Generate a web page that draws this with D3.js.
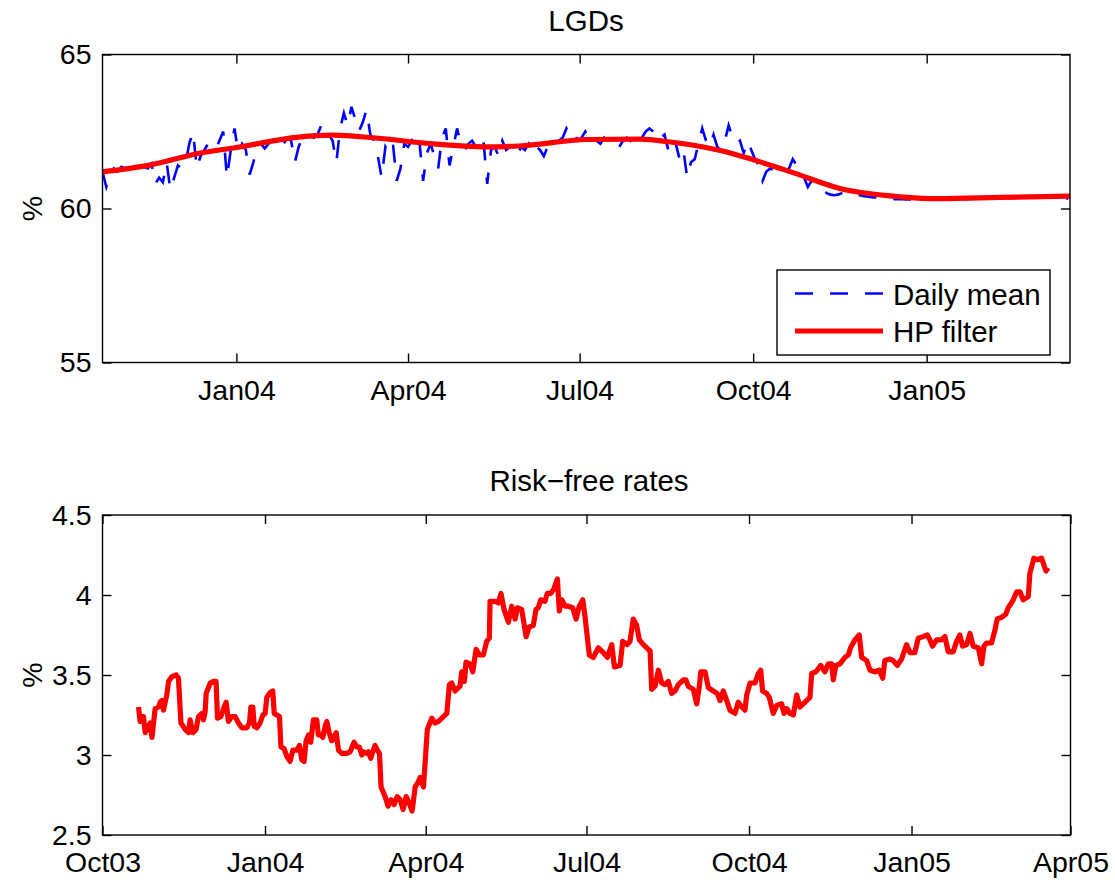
<!DOCTYPE html>
<html>
<head>
<meta charset="utf-8">
<script src="https://cdn.jsdelivr.net/npm/d3@7"></script>
<style>
  html, body { margin: 0; padding: 0; background: #fff; }
  svg { display: block; font-family: "Liberation Sans", Arial, Helvetica, sans-serif; }
</style>
</head>
<body>
<svg id="chart" width="1115" height="880"></svg>
<script>
const lgdStart = "2003-10-22";
const lgdStepDays = 2;
const lgdDaily = [
  61.2, 60.7, 61.1, 61.3, 61.2, 61.35, 61.3, 61.25, 61.35, 61.3,
  61.4, 61.35, 61.3, 61.45, 60.8, 61.0, 60.85, 61.5, 60.6, 61.0,
  61.4, 61.3, 61.45, 62.1, 62.5, 61.3, 61.7, 61.9, 62.1, 62.0,
  61.9, 62.2, 62.5, 61.0, 61.9, 62.6, 61.8, 62.1, 61.9, 61.1,
  61.5, 62.0, 62.1, 61.95, 62.1, 62.2, 62.05, 62.2, 62.1, 62.3,
  62.2, 61.5, 62.0, 62.3, 62.2, 62.35, 62.3, 62.4, 62.7, 62.3,
  62.4, 62.2, 61.5, 62.6, 63.1, 62.7, 63.3, 62.9, 62.5, 62.8,
  63.2, 62.4, 62.2, 61.7, 61.0, 62.0, 61.8, 62.1, 60.9, 61.3,
  62.1, 62.0, 62.2, 61.9, 62.2, 60.9, 61.8, 62.1, 61.7, 61.3,
  62.3, 62.6, 61.4, 62.0, 62.6, 62.1, 61.9, 62.1, 62.2, 62.0,
  61.9, 62.2, 60.8, 61.9, 62.0, 61.7, 62.2, 61.9, 62.0, 61.7,
  61.75, 62.0, 61.9, 62.1, 61.8, 62.0, 61.9, 61.7, 62.0, 62.1,
  62.0, 62.2, 62.3, 62.6, 62.4, 62.5, 62.2, 62.3, 62.5, 62.2,
  62.3, 62.2, 62.1, 62.3, 62.2, 62.0, 62.1, 62.0, 62.2, 62.3,
  62.2, 62.4, 62.2, 62.3, 62.5, 62.6, 62.5, 62.6, 62.3, 62.4,
  61.9, 62.3, 62.1, 61.6, 61.9, 61.0, 61.5, 61.6, 62.1, 62.6,
  62.2, 62.0, 62.4, 62.0, 61.9, 62.2, 62.7, 62.3, 62.1, 62.2,
  61.8, 62.2, 61.9, 61.6, 61.4, 60.9, 61.2, 61.3, 61.25, 61.2,
  61.1, 61.2, 61.3, 61.6, 61.4, 61.2, 61.0, 60.7, 60.9, 60.8,
  60.75, 60.6, 60.5, 60.45, 60.43, 60.45, 60.5, 60.55, 60.5, 60.48,
  60.45, 60.42, 60.4, 60.38, 60.37, 60.36, 60.34, 60.35, 60.33, 60.32,
  60.3, 60.31, 60.3, 60.29, 60.3, 60.28, 60.29, 60.3, 60.31, 60.3,
  60.3, 60.29, 60.3, 60.31, 60.3, 60.3, 60.32, 60.31, 60.3, 60.31,
  60.32, 60.31, 60.33, 60.32, 60.33, 60.34, 60.33, 60.35, 60.35, 60.36,
  60.35, 60.37, 60.36, 60.38, 60.37, 60.39, 60.38, 60.39, 60.4, 60.39,
  60.41, 60.4, 60.41, 60.4, 60.42, 60.38, 60.3
];

// LGDs: HP filter trend
const hpDates = [
  "2003-10-22", "2003-11-16", "2003-12-13", "2004-01-01", "2004-02-03", "2004-02-21",
  "2004-03-15", "2004-04-12", "2004-05-13", "2004-05-30", "2004-07-05", "2004-08-02",
  "2004-08-18", "2004-09-13", "2004-09-29", "2004-10-21", "2004-11-16", "2004-12-18",
  "2005-01-08", "2005-02-09", "2005-03-18"
];
const hpValues = [
  61.19, 61.41, 61.80, 61.98, 62.32, 62.38, 62.29, 62.11, 62.00, 62.03, 62.24,
  62.25, 62.16, 61.89, 61.62, 61.19, 60.65, 60.38, 60.32, 60.36, 60.40
];

// risk-free rates, day offsets counted from 1 Oct 2003
const rateStart = "2003-10-01";
const rateDays = [
  20.4, 21.3, 23.2, 24.2, 25.5, 27.0, 28.0, 29.3, 29.8, 31.7,
  32.7, 33.6, 34.5, 36.4, 37.4, 39.3, 41.7, 43.0, 44.4, 46.8,
  48.7, 49.6, 51.2, 53.0, 54.3, 56.3, 57.2, 58.1, 58.7, 61.0,
  62.8, 64.3, 65.1, 67.0, 68.9, 70.0, 71.3, 73.2, 75.1, 77.0,
  78.9, 81.7, 83.2, 84.0, 85.1, 85.9, 87.4, 89.2, 90.8, 92.1,
  93.0, 94.9, 96.4, 97.2, 98.7, 100.2, 101.0, 102.8, 104.4, 106.2,
  107.8, 110.0, 111.5, 112.8, 114.1, 115.3, 116.6, 117.9, 119.4, 121.3,
  122.2, 123.6, 124.7, 126.0, 127.0, 128.3, 129.8, 130.7, 132.3, 133.6,
  135.5, 138.3, 140.2, 142.4, 144.0, 145.4, 146.8, 147.7, 149.6, 150.5,
  151.9, 153.0, 154.3, 155.6, 156.8, 157.7, 160.0, 161.7, 163.4, 165.1,
  166.8, 168.5, 170.2, 171.9, 173.6, 175.3, 177.0, 178.7, 179.8, 181.7,
  183.9, 186.4, 188.3, 190.2, 193.0, 194.9, 196.4, 197.7, 199.6, 202.4,
  203.4, 204.9, 205.8, 208.1, 209.6, 211.5, 213.4, 215.6, 217.5, 219.0,
  219.4, 222.2, 224.1, 225.6, 227.3, 229.8, 231.7, 233.6, 234.9, 237.3,
  239.8, 241.6, 243.9, 245.4, 246.7, 248.1, 250.5, 251.8, 253.8, 255.6,
  257.5, 258.6, 260.0, 261.9, 263.7, 266.2, 268.1, 269.9, 271.9, 273.2,
  275.6, 277.9, 280.7, 283.5, 285.8, 288.3, 289.8, 293.0, 294.5, 297.1,
  298.6, 300.5, 302.4, 303.9, 306.2, 310.0, 310.9, 312.8, 314.7, 316.6,
  318.4, 320.3, 322.2, 324.1, 326.0, 328.8, 330.3, 331.6, 334.5, 336.4,
  337.9, 338.7, 341.1, 343.0, 345.8, 348.0, 349.6, 351.4, 353.4, 355.2,
  358.1, 359.9, 361.9, 363.7, 364.7, 366.6, 369.4, 371.3, 372.6, 373.7,
  376.0, 377.5, 379.7, 381.7, 384.5, 385.8, 387.3, 389.2, 391.1, 393.0,
  394.8, 396.7, 398.6, 400.5, 401.5, 403.9, 406.6, 409.0, 410.9, 412.8,
  413.7, 415.2, 417.5, 420.3, 422.2, 423.5, 426.0, 428.4, 429.8, 432.6,
  434.5, 437.3, 439.7, 441.7, 442.9, 445.8, 447.6, 449.9, 452.4, 455.2,
  457.1, 459.9, 461.8, 464.6, 466.9, 468.4, 469.9, 472.2, 475.0, 476.9,
  478.8, 481.6, 483.5, 485.4, 486.9, 489.2, 491.1, 492.9, 495.8, 497.7,
  499.0, 500.5, 503.3, 505.2, 506.5, 509.0, 511.4, 512.7, 515.6, 517.5,
  519.4, 521.2, 524.1, 525.0, 527.3, 529.1, 531.6, 534.1, 535.4
];
const rateValues = [
  3.30, 3.21, 3.24, 3.14, 3.17, 3.20, 3.11, 3.24, 3.29, 3.30,
  3.33, 3.34, 3.28, 3.375, 3.46, 3.49, 3.50, 3.48, 3.20, 3.16,
  3.14, 3.22, 3.14, 3.16, 3.24, 3.26, 3.22, 3.27, 3.385, 3.45,
  3.46, 3.46, 3.23, 3.24, 3.30, 3.33, 3.21, 3.24, 3.24, 3.20,
  3.17, 3.17, 3.20, 3.30, 3.30, 3.18, 3.17, 3.20, 3.25, 3.26,
  3.36, 3.39, 3.40, 3.26, 3.25, 3.24, 3.05, 3.04, 2.99, 2.96,
  3.03, 3.03, 3.06, 2.97, 2.96, 3.09, 3.125, 3.08, 3.22, 3.22,
  3.125, 3.125, 3.11, 3.18, 3.21, 3.14, 3.09, 3.10, 3.14, 3.03,
  3.01, 3.01, 3.02, 3.08, 3.05, 3.05, 3.00, 3.02, 3.01, 3.02,
  2.98, 3.02, 3.06, 3.03, 3.01, 2.80, 2.74, 2.68, 2.72, 2.69,
  2.74, 2.72, 2.66, 2.74, 2.70, 2.65, 2.80, 2.83, 2.86, 2.80,
  3.16, 3.23, 3.20, 3.21, 3.24, 3.26, 3.44, 3.45, 3.40, 3.43,
  3.52, 3.46, 3.58, 3.57, 3.52, 3.66, 3.625, 3.625, 3.71, 3.73,
  3.96, 3.96, 3.95, 4.01, 3.91, 3.83, 3.93, 3.85, 3.92, 3.91,
  3.74, 3.80, 3.81, 3.91, 3.92, 3.97, 3.96, 4.01, 4.01, 4.04,
  4.10, 3.90, 3.97, 3.93, 3.93, 3.92, 3.85, 3.93, 3.97, 3.86,
  3.625, 3.61, 3.67, 3.64, 3.61, 3.69, 3.55, 3.56, 3.71, 3.69,
  3.71, 3.85, 3.81, 3.72, 3.69, 3.65, 3.41, 3.43, 3.53, 3.45,
  3.44, 3.46, 3.385, 3.40, 3.44, 3.47, 3.47, 3.43, 3.41, 3.32,
  3.43, 3.52, 3.52, 3.42, 3.40, 3.385, 3.34, 3.40, 3.34, 3.28,
  3.26, 3.33, 3.30, 3.28, 3.375, 3.45, 3.45, 3.51, 3.53, 3.40,
  3.385, 3.36, 3.26, 3.31, 3.32, 3.26, 3.29, 3.26, 3.25, 3.375,
  3.30, 3.32, 3.34, 3.36, 3.51, 3.52, 3.56, 3.52, 3.57, 3.57,
  3.47, 3.56, 3.57, 3.61, 3.625, 3.67, 3.72, 3.75, 3.61, 3.59,
  3.53, 3.52, 3.53, 3.48, 3.59, 3.60, 3.59, 3.56, 3.60, 3.69,
  3.64, 3.64, 3.73, 3.74, 3.75, 3.72, 3.68, 3.72, 3.72, 3.74,
  3.645, 3.645, 3.71, 3.75, 3.68, 3.69, 3.76, 3.68, 3.67, 3.57,
  3.68, 3.70, 3.70, 3.78, 3.85, 3.86, 3.88, 3.92, 3.97, 4.02,
  4.02, 3.97, 3.99, 4.135, 4.23, 4.22, 4.23, 4.15, 4.17
];

// axes
const lgdDomain = ["2003-10-22", "2005-03-18"];
const lgdXTicks = ["2004-01-01", "2004-04-01", "2004-07-01", "2004-10-01", "2005-01-01"];
const lgdYTicks = [55, 60, 65];
const rateDomain = ["2003-10-01", "2005-04-01"];
const rateXTicks = ["2003-10-01", "2004-01-01", "2004-04-01", "2004-07-01", "2004-10-01", "2005-01-01", "2005-04-01"];
const rateYTicks = [2.5, 3, 3.5, 4, 4.5];
const legendLabels = ["Daily mean", "HP filter"];

const parseDay = d3.timeParse("%Y-%m-%d");
const monthFmt = d3.timeFormat("%b%y");
const FS = 28.5;      // tick labels
const FS_T = 29.5;    // titles, legend
const BLUE = "#0000ff", RED = "#ff0000";

const svg = d3.select("#chart");

// box, inward ticks on all four sides, tick labels left and bottom
function drawFrame(g, x, y, xTicks, yTicks, clipId) {
  const [l, r] = x.range(), [b, t] = y.range();

  g.append("clipPath").attr("id", clipId)
    .append("rect").attr("x", l).attr("y", t).attr("width", r - l).attr("height", b - t);

  const style = a => {
    a.select(".domain").remove();
    a.selectAll("line").attr("stroke", "#000").attr("stroke-width", 1.4);
    a.selectAll("text").attr("fill", "#000").style("font-size", FS + "px")
      .style("font-family", '"Liberation Sans", Arial, Helvetica, sans-serif');
  };

  g.append("g").attr("transform", `translate(0,${b})`)
    .call(d3.axisBottom(x).tickValues(xTicks).tickSize(-9).tickPadding(17).tickFormat(monthFmt)).call(style);
  g.append("g").attr("transform", `translate(0,${t})`)
    .call(d3.axisTop(x).tickValues(xTicks).tickSize(-9).tickFormat("")).call(style);
  g.append("g").attr("transform", `translate(${l},0)`)
    .call(d3.axisLeft(y).tickValues(yTicks).tickSize(-9).tickPadding(11).tickFormat(d3.format("~g"))).call(style);
  g.append("g").attr("transform", `translate(${r},0)`)
    .call(d3.axisRight(y).tickValues(yTicks).tickSize(-9).tickFormat("")).call(style);

  g.append("rect").attr("x", l).attr("y", t).attr("width", r - l).attr("height", b - t)
    .attr("fill", "none").attr("stroke", "#000").attr("stroke-width", 1.4);

  // % label
  g.append("text").attr("transform", `translate(42,${(t + b) / 2}) rotate(-90)`)
    .attr("text-anchor", "middle").style("font-size", FS + "px").text("%");
}

// ---------------- top panel: LGDs ----------------
const lgdPanel = svg.append("g");
const x1 = d3.scaleTime().domain(lgdDomain.map(parseDay)).range([102.5, 1070]);
const y1 = d3.scaleLinear().domain([55, 65]).range([362.5, 54.5]);

const dailyPts = lgdDaily.map((v, i) => ({ date: d3.timeDay.offset(parseDay(lgdStart), i * lgdStepDays), v }));
const hpPts = hpDates.map((d, i) => ({ date: parseDay(d), v: hpValues[i] }));

const lgdPlot = lgdPanel.append("g").attr("clip-path", "url(#clipLgd)");
lgdPlot.append("path").datum(dailyPts)
  .attr("fill", "none").attr("stroke", BLUE).attr("stroke-width", 2.6)
  .attr("stroke-dasharray", "18 17")
  .attr("d", d3.line().x(d => x1(d.date)).y(d => y1(d.v)));
lgdPlot.append("path").datum(hpPts)
  .attr("fill", "none").attr("stroke", RED).attr("stroke-width", 5.2).attr("stroke-linejoin", "round")
  .attr("d", d3.line().curve(d3.curveMonotoneX).x(d => x1(d.date)).y(d => y1(d.v)));

drawFrame(lgdPanel, x1, y1, lgdXTicks.map(parseDay), lgdYTicks, "clipLgd");
lgdPanel.append("text").attr("x", 586).attr("y", 30.7).attr("text-anchor", "middle")
  .style("font-size", FS_T + "px").text("LGDs");

// legend
const leg = lgdPanel.append("g");
leg.append("rect").attr("x", 777).attr("y", 270).attr("width", 273).attr("height", 85)
  .attr("fill", "#fff").attr("stroke", "#000").attr("stroke-width", 1.4);
leg.append("line").attr("x1", 795).attr("x2", 883).attr("y1", 293.5).attr("y2", 293.5)
  .attr("stroke", BLUE).attr("stroke-width", 2.6).attr("stroke-dasharray", "18 17");
leg.append("line").attr("x1", 795).attr("x2", 883).attr("y1", 331).attr("y2", 331)
  .attr("stroke", RED).attr("stroke-width", 5.2);
leg.selectAll("text.lab").data(legendLabels).enter().append("text").attr("class", "lab")
  .attr("x", 893).attr("y", (d, i) => 304.5 + i * 37.5)
  .style("font-size", FS_T + "px").text(d => d);

// ---------------- bottom panel: risk-free rates ----------------
const ratePanel = svg.append("g");
const x2 = d3.scaleTime().domain(rateDomain.map(parseDay)).range([102.5, 1070.5]);
const y2 = d3.scaleLinear().domain([2.5, 4.5]).range([835, 515]);

const ratePts = rateDays.map((d, i) => ({ date: new Date(+parseDay(rateStart) + d * 864e5), v: rateValues[i] }));

ratePanel.append("g").attr("clip-path", "url(#clipRate)")
  .append("path").datum(ratePts)
  .attr("fill", "none").attr("stroke", RED).attr("stroke-width", 5.2).attr("stroke-linejoin", "round")
  .attr("d", d3.line().x(d => x2(d.date)).y(d => y2(d.v)));

drawFrame(ratePanel, x2, y2, rateXTicks.map(parseDay), rateYTicks, "clipRate");
ratePanel.append("text").attr("x", 589).attr("y", 490.7).attr("text-anchor", "middle")
  .style("font-size", FS_T + "px").text("Risk\u2212free rates");
</script>
</body>
</html>
